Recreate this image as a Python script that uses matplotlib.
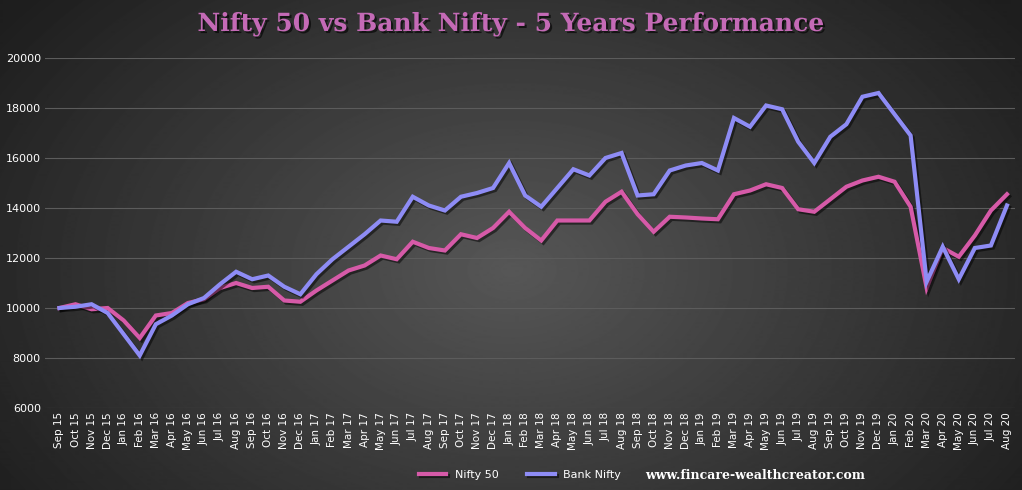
import numpy as np
import matplotlib
matplotlib.use("Agg")
import matplotlib.pyplot as plt
import matplotlib.patheffects as pe

month_names = ['Jan','Feb','Mar','Apr','May','Jun','Jul','Aug','Sep','Oct','Nov','Dec']
labels = []
for i in range(60):
    m = (8 + i) % 12
    y = 15 + (8 + i) // 12
    labels.append(f"{month_names[m]} {y}")

nifty = [10000, 10150, 9950, 10000, 9500, 8800, 9700, 9800, 10200, 10350, 10800, 11000,
         10800, 10850, 10300, 10250, 10700, 11100, 11500, 11700, 12100, 11950, 12650, 12400,
         12300, 12950, 12800, 13200, 13850, 13200, 12700, 13500, 13500, 13500, 14250, 14650,
         13750, 13050, 13650, 13620, 13580, 13550, 14550, 14700, 14950, 14800, 13950, 13850,
         14350, 14850, 15100, 15250, 15050, 14050, 10800, 12400, 12050, 12900, 13900, 14550]
bank = [10000, 10050, 10150, 9800, 8950, 8100, 9350, 9700, 10150, 10400, 10950, 11450,
        11150, 11300, 10850, 10550, 11350, 11950, 12450, 12950, 13500, 13450, 14450, 14100,
        13900, 14450, 14600, 14800, 15800, 14500, 14050, 14800, 15550, 15300, 16000, 16200,
        14500, 14550, 15500, 15700, 15800, 15500, 17600, 17250, 18100, 17950, 16650, 15800,
        16850, 17350, 18450, 18600, 17750, 16900, 11050, 12450, 11150, 12400, 12500, 14100]
yticks = list(range(6000, 20001, 2000))

fig = plt.figure(figsize=(10.22, 4.9), dpi=100)
bg = fig.add_axes([0, 0, 1, 1])
yy, xx = np.mgrid[0:490, 0:1022]
r = np.sqrt(((xx - 511) / 620.0) ** 2 + ((yy - 270) / 420.0) ** 2)
img = np.clip(0.34 - 0.22 * r, 0.12, 0.34)
bg.imshow(img, cmap="gray", vmin=0, vmax=1, aspect="auto", extent=[0, 1, 0, 1])
bg.axis("off")

ax = fig.add_axes([45/1022, 1-408/490, (1015-45)/1022, 350/490])
ax.patch.set_alpha(0)
x = np.arange(len(labels))
shadow = [pe.SimpleLineShadow(offset=(1.5, -1.5), shadow_color="black", alpha=0.5), pe.Normal()]
ax.plot(x, nifty, color="#d65aa8", lw=3, label="Nifty 50", path_effects=shadow, solid_joinstyle="miter")
ax.plot(x, bank, color="#8e8cf5", lw=3, label="Bank Nifty", path_effects=shadow, solid_joinstyle="miter")
ax.set_ylim(6000, 20000)
ax.set_xlim(-0.9, 59.5)
ax.set_yticks(yticks)
ax.set_yticklabels([str(v) for v in yticks], color="white", fontsize=8)
ax.set_xticks(x)
ax.set_xticklabels(labels, rotation=90, color="white", fontsize=7.5)
ax.grid(axis="y", color="#5c5c5c", lw=0.8)
for s in ax.spines.values():
    s.set_visible(False)
ax.tick_params(length=0, pad=3)

fig.text(0.5, 1-24/490, "Nifty 50 vs Bank Nifty - 5 Years Performance", ha="center", va="center",
         fontsize=18, fontweight="bold", family="DejaVu Serif", color="#c46ab6",
         path_effects=[pe.withSimplePatchShadow(offset=(1.5, -1.5), shadow_rgbFace="black", alpha=0.6)])
leg = fig.legend(loc="center", bbox_to_anchor=(520/1022, 1-475/490), ncol=2, frameon=False,
                 fontsize=8, labelcolor="white", handlelength=2.5, columnspacing=2.5)
fig.text(755/1022, 1-475/490, "www.fincare-wealthcreator.com", ha="center", va="center",
         fontsize=9, fontweight="bold", family="DejaVu Serif", color="white")
fig.savefig("out.png", dpi=100)
